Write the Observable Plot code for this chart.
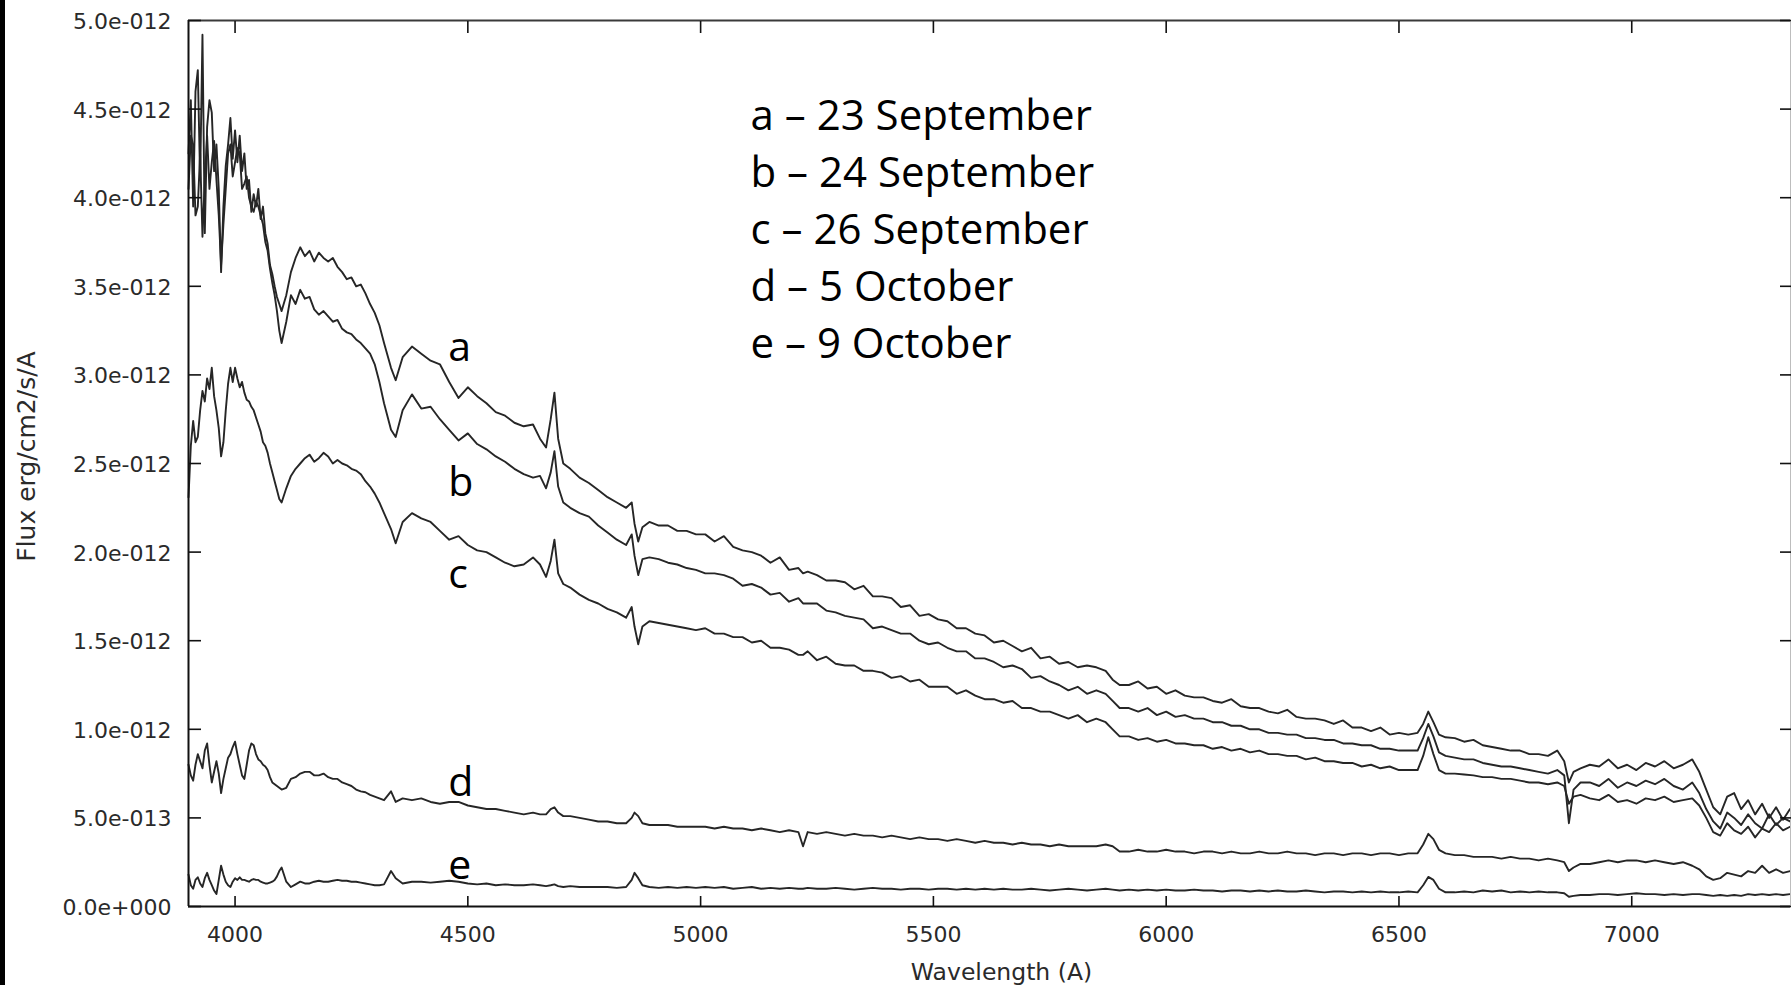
<!DOCTYPE html>
<html><head><meta charset="utf-8">
<script src="https://cdn.jsdelivr.net/npm/d3@7"></script>
<script src="https://cdn.jsdelivr.net/npm/@observablehq/plot@0.6"></script>
<style>
html,body{margin:0;padding:0;background:#fff;}
#chart{position:absolute;left:0;top:0;}
#strip{position:absolute;left:0;top:0;width:5px;height:985px;background:#000;}
</style></head><body>
<div id="chart"></div><div id="strip"></div>
<script>
// Wavelength grid (Angstrom)
const wavelength = [
  3900,3905,3910,3915,3920,3925,3930,3935,3940,3945,3950,3955,3960,3965,3970,3975,3980,3985,3990,3995,
  4000,4005,4010,4015,4020,4025,4030,4035,4040,4045,4050,4055,4060,4065,4070,4075,4080,4085,4090,4095,4100,
  4110,4120,4130,4140,4150,4160,4170,4180,4190,4200,4210,4220,4230,4240,4250,4260,4270,4280,4290,4300,4310,4320,
  4335,4345,4360,4380,4400,4420,4440,4460,4480,4500,4520,4540,4560,4580,4600,4620,4640,4655,4668,4678,
  4686,4694,4705,4720,4740,4760,4780,4800,4820,4840,4852,4858,4866,4875,4890,4910,4930,4950,4970,4990,
  5010,5030,5050,5070,5090,5110,5130,5150,5170,5190,5210,5220,5230,5250,5270,5290,5310,5330,5350,5370,5390,5410,
  5430,5450,5470,5490,5510,5530,5550,5570,5590,5610,5630,5650,5670,5690,5710,5730,5750,5770,5790,5810,5830,5850,
  5870,5885,5900,
  5920,5940,5960,5980,6000,6020,6040,6060,6080,6100,6120,6140,6160,6180,6200,6220,6240,6260,6280,6300,
  6320,6340,6360,6380,6400,6420,6440,6460,6480,6500,6520,
  6540,6552,6563,6574,6586,6600,
  6620,6640,6660,6680,6700,6720,6740,6760,6780,6800,6820,6840,
  6855,6865,6875,6890,
  6910,6930,6950,6970,6990,7010,7030,7050,7070,7090,7110,7130,
  7145,7160,7175,7190,7205,7220,7235,7250,7265,7280,7295,7310,7325,7340
];

// Flux in units of 1e-12 erg/cm2/s/A
const fluxA = [
  4.25,4.55,3.95,4.60,4.72,4.10,4.92,3.80,4.40,4.55,4.48,4.15,4.30,4.05,3.58,3.95,4.18,4.30,4.45,4.22,
  4.38,4.20,4.35,4.15,4.25,4.05,4.10,3.92,4.02,3.95,4.05,3.88,3.95,3.80,3.74,3.62,3.57,3.50,3.44,3.40,3.36,
  3.45,3.58,3.66,3.72,3.67,3.70,3.64,3.69,3.66,3.64,3.66,3.61,3.58,3.54,3.55,3.50,3.51,3.46,3.40,3.35,3.28,3.18,
  3.04,2.97,3.10,3.16,3.12,3.08,3.06,2.96,2.87,2.93,2.88,2.84,2.79,2.77,2.73,2.71,2.72,2.64,2.59,2.75,
  2.90,2.64,2.50,2.47,2.42,2.39,2.35,2.31,2.28,2.25,2.28,2.16,2.06,2.14,2.17,2.15,2.15,2.12,2.12,2.10,
  2.10,2.06,2.09,2.03,2.01,2.00,1.98,1.94,1.97,1.90,1.91,1.88,1.89,1.87,1.84,1.84,1.83,1.79,1.81,1.75,1.75,1.74,
  1.69,1.70,1.64,1.65,1.62,1.61,1.57,1.57,1.54,1.53,1.49,1.50,1.47,1.44,1.46,1.40,1.41,1.37,1.38,1.35,1.36,1.35,
  1.33,1.28,1.25,
  1.25,1.27,1.23,1.24,1.20,1.22,1.19,1.18,1.18,1.16,1.15,1.17,1.13,1.12,1.12,1.10,1.09,1.11,1.07,1.06,
  1.06,1.05,1.03,1.05,1.01,1.01,0.99,1.01,0.97,0.98,0.97,
  0.98,1.03,1.10,1.04,0.97,0.955,
  0.95,0.93,0.94,0.91,0.90,0.89,0.88,0.88,0.86,0.86,0.85,0.88,
  0.82,0.70,0.76,0.78,
  0.80,0.79,0.83,0.78,0.80,0.77,0.81,0.79,0.82,0.78,0.80,0.83,
  0.76,0.66,0.56,0.52,0.62,0.64,0.55,0.60,0.52,0.58,0.50,0.56,0.49,0.55
];
const fluxB = [
  4.05,4.35,4.30,3.90,3.95,4.25,3.78,4.10,4.35,4.05,4.20,4.32,4.10,3.90,3.62,3.85,4.05,4.25,4.30,4.12,
  4.20,4.28,4.25,4.05,4.08,4.12,4.00,3.95,3.92,3.98,3.95,3.90,3.85,3.75,3.70,3.60,3.52,3.45,3.36,3.25,3.18,
  3.30,3.45,3.40,3.48,3.43,3.44,3.37,3.34,3.36,3.33,3.30,3.31,3.26,3.24,3.23,3.20,3.18,3.15,3.12,3.06,2.96,2.84,
  2.69,2.65,2.80,2.89,2.81,2.82,2.75,2.69,2.63,2.67,2.61,2.58,2.54,2.51,2.47,2.44,2.42,2.43,2.36,2.45,
  2.57,2.37,2.28,2.25,2.22,2.20,2.15,2.11,2.07,2.04,2.10,1.98,1.87,1.96,1.97,1.96,1.94,1.93,1.91,1.90,
  1.88,1.88,1.87,1.85,1.81,1.82,1.80,1.76,1.77,1.72,1.74,1.71,1.71,1.71,1.67,1.66,1.64,1.63,1.62,1.57,1.58,1.56,
  1.54,1.54,1.50,1.48,1.49,1.46,1.44,1.44,1.40,1.40,1.38,1.35,1.36,1.34,1.29,1.30,1.27,1.25,1.22,1.24,1.20,1.22,
  1.20,1.16,1.12,
  1.12,1.10,1.12,1.08,1.10,1.07,1.08,1.06,1.06,1.04,1.04,1.02,1.02,1.00,1.00,0.98,0.98,0.97,0.97,0.95,
  0.95,0.94,0.94,0.92,0.92,0.91,0.91,0.89,0.89,0.88,0.88,
  0.88,0.95,1.03,0.96,0.87,0.85,
  0.84,0.83,0.83,0.81,0.80,0.79,0.79,0.78,0.77,0.76,0.75,0.77,
  0.74,0.47,0.66,0.70,
  0.70,0.68,0.72,0.67,0.70,0.68,0.71,0.69,0.72,0.68,0.66,0.70,
  0.64,0.55,0.48,0.44,0.53,0.50,0.46,0.52,0.47,0.44,0.52,0.46,0.50,0.48
];
const fluxC = [
  2.31,2.60,2.74,2.62,2.65,2.80,2.91,2.85,2.98,2.92,3.04,2.88,2.80,2.70,2.54,2.62,2.80,2.95,3.04,2.96,
  3.04,2.98,2.93,2.96,2.90,2.86,2.85,2.82,2.80,2.76,2.72,2.68,2.62,2.60,2.56,2.50,2.45,2.40,2.35,2.30,2.28,
  2.36,2.43,2.47,2.50,2.53,2.55,2.51,2.53,2.56,2.54,2.50,2.52,2.50,2.49,2.47,2.46,2.44,2.40,2.37,2.33,2.28,2.22,
  2.13,2.05,2.17,2.22,2.19,2.17,2.12,2.07,2.09,2.04,2.01,2.00,1.97,1.94,1.92,1.93,1.97,1.93,1.86,1.95,
  2.07,1.88,1.82,1.80,1.76,1.73,1.71,1.68,1.66,1.63,1.69,1.58,1.48,1.58,1.61,1.60,1.59,1.58,1.57,1.56,
  1.57,1.54,1.54,1.52,1.52,1.49,1.50,1.46,1.46,1.45,1.42,1.42,1.44,1.39,1.41,1.37,1.36,1.36,1.33,1.33,1.32,1.29,
  1.30,1.27,1.28,1.24,1.24,1.24,1.20,1.22,1.19,1.17,1.17,1.15,1.16,1.12,1.12,1.10,1.10,1.08,1.06,1.08,1.04,1.06,
  1.04,1.00,0.96,
  0.96,0.94,0.95,0.93,0.94,0.92,0.92,0.91,0.91,0.89,0.90,0.88,0.89,0.87,0.88,0.86,0.86,0.85,0.85,0.83,
  0.84,0.82,0.82,0.81,0.81,0.79,0.80,0.78,0.79,0.77,0.77,
  0.77,0.85,0.955,0.86,0.77,0.75,
  0.75,0.745,0.74,0.73,0.73,0.72,0.72,0.71,0.70,0.70,0.69,0.70,
  0.68,0.58,0.62,0.63,
  0.61,0.60,0.63,0.59,0.60,0.58,0.61,0.60,0.62,0.59,0.60,0.61,
  0.57,0.50,0.42,0.40,0.47,0.43,0.41,0.45,0.39,0.44,0.42,0.47,0.43,0.45
];
const fluxD = [
  0.80,0.74,0.71,0.80,0.86,0.82,0.78,0.88,0.92,0.80,0.70,0.76,0.82,0.75,0.64,0.72,0.78,0.84,0.86,0.90,
  0.93,0.86,0.80,0.74,0.72,0.80,0.88,0.92,0.91,0.86,0.83,0.82,0.80,0.79,0.77,0.73,0.70,0.69,0.68,0.67,0.66,
  0.67,0.72,0.73,0.75,0.76,0.76,0.74,0.74,0.75,0.73,0.72,0.72,0.70,0.69,0.68,0.66,0.65,0.645,0.63,0.62,0.61,0.60,
  0.65,0.59,0.61,0.60,0.61,0.59,0.58,0.59,0.59,0.57,0.56,0.55,0.55,0.54,0.53,0.52,0.53,0.52,0.52,0.55,
  0.56,0.53,0.51,0.51,0.50,0.49,0.48,0.48,0.47,0.47,0.50,0.53,0.51,0.47,0.46,0.46,0.46,0.45,0.45,0.45,
  0.45,0.44,0.45,0.44,0.44,0.43,0.44,0.43,0.42,0.43,0.42,0.34,0.42,0.41,0.42,0.41,0.40,0.41,0.40,0.40,0.39,0.40,
  0.39,0.38,0.39,0.38,0.38,0.37,0.38,0.37,0.36,0.37,0.36,0.36,0.35,0.36,0.35,0.35,0.34,0.35,0.34,0.34,0.34,0.34,
  0.35,0.34,0.31,
  0.31,0.32,0.31,0.31,0.32,0.31,0.31,0.30,0.31,0.31,0.30,0.31,0.30,0.30,0.31,0.30,0.30,0.31,0.30,0.30,
  0.29,0.30,0.30,0.29,0.30,0.30,0.29,0.30,0.30,0.29,0.30,
  0.30,0.35,0.41,0.38,0.32,0.30,
  0.29,0.29,0.28,0.28,0.28,0.27,0.28,0.27,0.27,0.26,0.27,0.26,
  0.25,0.20,0.22,0.24,
  0.24,0.25,0.26,0.25,0.26,0.26,0.25,0.26,0.25,0.24,0.25,0.23,
  0.21,0.17,0.15,0.16,0.19,0.18,0.17,0.20,0.19,0.23,0.19,0.21,0.19,0.20
];
const fluxE = [
  0.18,0.12,0.10,0.15,0.165,0.13,0.11,0.16,0.19,0.15,0.12,0.09,0.07,0.15,0.23,0.18,0.14,0.12,0.11,0.14,
  0.16,0.15,0.165,0.15,0.15,0.145,0.14,0.15,0.155,0.15,0.15,0.14,0.135,0.13,0.13,0.135,0.14,0.15,0.17,0.20,0.22,
  0.14,0.11,0.125,0.14,0.13,0.13,0.14,0.145,0.14,0.14,0.145,0.15,0.145,0.145,0.14,0.14,0.135,0.13,0.125,0.12,0.12,0.125,
  0.20,0.16,0.13,0.14,0.14,0.135,0.14,0.145,0.14,0.13,0.125,0.13,0.12,0.125,0.12,0.12,0.125,0.12,0.115,0.12,
  0.125,0.115,0.11,0.115,0.11,0.11,0.11,0.11,0.105,0.11,0.15,0.19,0.16,0.12,0.11,0.105,0.11,0.105,0.11,0.105,
  0.11,0.105,0.11,0.10,0.105,0.11,0.10,0.105,0.10,0.105,0.10,0.10,0.105,0.10,0.10,0.105,0.10,0.095,0.10,0.105,0.10,0.10,
  0.095,0.10,0.10,0.095,0.10,0.10,0.095,0.10,0.095,0.10,0.095,0.10,0.095,0.095,0.10,0.095,0.09,0.095,0.10,0.095,0.09,0.095,
  0.10,0.095,0.09,
  0.095,0.09,0.095,0.09,0.095,0.09,0.09,0.095,0.09,0.09,0.085,0.09,0.09,0.085,0.09,0.085,0.09,0.085,0.085,0.09,
  0.085,0.08,0.085,0.085,0.08,0.085,0.08,0.085,0.08,0.08,0.085,
  0.08,0.12,0.167,0.15,0.10,0.08,
  0.08,0.085,0.08,0.09,0.085,0.09,0.08,0.085,0.08,0.085,0.08,0.08,
  0.075,0.055,0.06,0.065,
  0.065,0.07,0.07,0.065,0.07,0.075,0.07,0.07,0.065,0.07,0.065,0.07,
  0.07,0.065,0.06,0.065,0.06,0.065,0.06,0.07,0.065,0.07,0.065,0.07,0.065,0.07
];

const seriesKeys = ["a", "b", "c", "d", "e"];
const legendLines = ["a \u2013 23 September", "b \u2013 24 September", "c \u2013 26 September", "d \u2013 5 October", "e \u2013 9 October"];
const labelWavelength = [4458, 4458, 4458, 4458, 4458];
const labelFlux = [3.081, 2.319, 1.795, 0.626, 0.158];
const xTicks = [4000, 4500, 5000, 5500, 6000, 6500, 7000];
const yTicks = [0, 0.5, 1, 1.5, 2, 2.5, 3, 3.5, 4, 4.5, 5];
const yTickLabels = ["0.0e+000", "5.0e-013", "1.0e-012", "1.5e-012", "2.0e-012", "2.5e-012", "3.0e-012", "3.5e-012", "4.0e-012", "4.5e-012", "5.0e-012"];
const xTitle = "Wavelength (A)";
const yTitle = "Flux erg/cm2/s/A";

const fluxes = [fluxA, fluxB, fluxC, fluxD, fluxE];
fluxes.forEach((f, k) => { if (f.length !== wavelength.length) throw new Error("length mismatch " + seriesKeys[k] + ": " + f.length + " vs " + wavelength.length); });

const rows = [];
seriesKeys.forEach((key, k) => wavelength.forEach((w, i) => rows.push({series: key, wl: w, flux: fluxes[k][i]})));
const labels = seriesKeys.map((key, i) => ({key, wl: labelWavelength[i], flux: labelFlux[i]}));

const ink = "#262626";
const axisInk = "#2a2a2a";

const chart = Plot.plot({
  width: 1792,
  height: 985,
  marginLeft: 188,
  marginRight: 2,
  marginTop: 20,
  marginBottom: 79,
  style: {background: "white", fontFamily: "DejaVu Sans", fontSize: "22px", color: axisInk, overflow: "visible"},
  x: {domain: [3900, 7341]},
  y: {domain: [0, 5]},
  marks: [
    Plot.line(rows, {x: "wl", y: "flux", z: "series", stroke: ink, strokeWidth: 1.9, strokeLinejoin: "round"}),
    // frame
    Plot.ruleY([0], {stroke: "#111", strokeWidth: 2}),
    Plot.ruleY([5], {stroke: "#3a3a3a", strokeWidth: 2}),
    Plot.ruleX([3900], {stroke: "#111", strokeWidth: 2}),
    Plot.ruleX([7341], {stroke: "#bdbdbd", strokeWidth: 1}),
    // inward ticks
    Plot.axisX(xTicks, {anchor: "bottom", tickSize: -10, strokeWidth: 1.6, stroke: "#111", fill: "none", label: null}),
    Plot.axisX(xTicks, {anchor: "top", tickSize: -12, strokeWidth: 1.6, stroke: "#111", fill: "none", label: null}),
    Plot.axisY(yTicks, {anchor: "left", tickSize: -13, strokeWidth: 1.6, stroke: "#111", fill: "none", label: null}),
    Plot.axisY(yTicks, {anchor: "right", tickSize: -11, strokeWidth: 1.6, stroke: "#111", fill: "none", label: null}),
    // tick labels
    Plot.axisX(xTicks, {anchor: "bottom", tickSize: 0, tickPadding: 20, fontSize: 22, fill: axisInk, label: null, tickFormat: d => String(d)}),
    Plot.axisY(yTicks, {anchor: "left", tickSize: 0, tickPadding: 17, fontSize: 22, fill: axisInk, label: null, dy: 1.5, tickFormat: d => yTickLabels[yTicks.indexOf(d)]}),
    // axis titles
    Plot.text([xTitle], {frameAnchor: "bottom", dx: 12, dy: 73, lineAnchor: "bottom", textAnchor: "middle", fontSize: 23.5, fill: axisInk}),
    Plot.text([yTitle], {frameAnchor: "left", dx: -162, dy: -7, rotate: -90, textAnchor: "middle", lineAnchor: "middle", fontSize: 25, fill: axisInk}),
    // series letters
    Plot.text(labels, {x: "wl", y: "flux", text: "key", textAnchor: "start", lineAnchor: "bottom", fontFamily: "Open Sans", fontSize: 41, fill: "#000"}),
    // legend
    Plot.text([legendLines.join("\n")], {frameAnchor: "top-left", dx: 562, dy: 337.7, textAnchor: "start", lineAnchor: "bottom", lineHeight: 1.36, fontFamily: "Open Sans", fontSize: 42, fill: "#000"})
  ]
});
document.getElementById("chart").appendChild(chart);
</script>
</body></html>
